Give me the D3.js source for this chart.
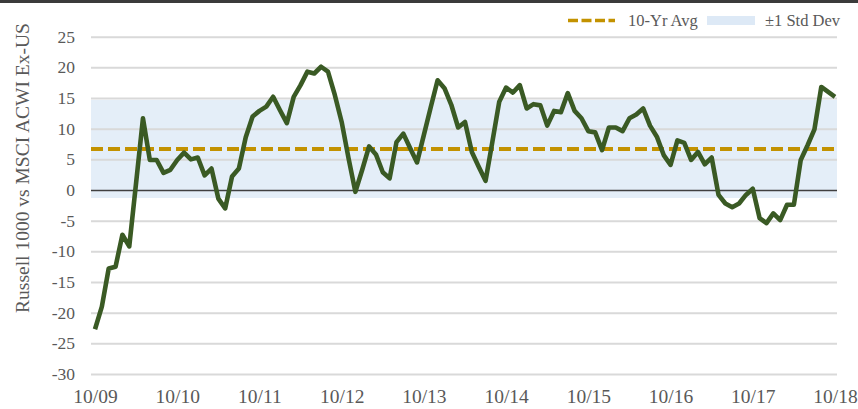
<!DOCTYPE html>
<html>
<head>
<meta charset="utf-8">
<script src="https://cdn.jsdelivr.net/npm/d3@7"></script>
<style>
	body { margin: 0; background: white; }
	svg text { font-family: "Liberation Serif", "Times New Roman", serif; fill: #595959; }
</style>
</head>
<body>
<svg id="chart" width="858" height="409"></svg>
<script>

var WIDTH = 858;
var HEIGHT = 409;
var X_LEFT = 95;
var X_RIGHT = 835;
var Y_TOP = 36.7;
var Y_BOTTOM = 374;

// monthly, 10/09 .. 10/18
var START_MONTH = new Date(2009, 9, 1);
var END_MONTH = new Date(2018, 9, 1);

var relPerf = [
	-22.7, -19.0, -12.8, -12.5, -7.3, -9.2, 1.2, 11.7, 4.9, 4.9, 2.8, 3.3,
	4.9, 6.1, 5.0, 5.3, 2.4, 3.5, -1.4, -3.0, 2.2, 3.5, 8.6, 12.0,
	12.9, 13.6, 15.2, 13.0, 10.9, 15.2, 17.1, 19.3, 19.0, 20.1, 19.3, 15.5,
	11.1, 5.2, -0.3, 3.3, 7.1, 5.8, 2.9, 1.9, 7.8, 9.2, 6.8, 4.5,
	9.0, 13.5, 17.9, 16.6, 13.9, 10.2, 11.1, 6.2, 3.8, 1.5, 7.9, 14.4,
	16.7, 15.9, 17.1, 13.3, 14.0, 13.8, 10.5, 12.9, 12.7, 15.8, 12.9, 11.7,
	9.6, 9.4, 6.5, 10.2, 10.2, 9.6, 11.7, 12.3, 13.3, 10.5, 8.7, 5.7,
	4.1, 8.1, 7.7, 4.9, 6.2, 4.2, 5.3, -0.8, -2.2, -2.8, -2.2, -0.8,
	0.2, -4.6, -5.4, -3.8, -4.9, -2.4, -2.4, 4.9, 7.3, 9.9, 16.8, 16.0,
	15.2
];

var avg10Yr = 6.7;
var stdDev = 8.0;

var yTicks = [25, 20, 15, 10, 5, 0, -5, -10, -15, -20, -25, -30];
var xTickLabels = ["10/09", "10/10", "10/11", "10/12", "10/13", "10/14", "10/15", "10/16", "10/17", "10/18"];

var fmtMonth = d3.timeFormat("%m/%y");
var months = d3.timeMonth.range(START_MONTH, d3.timeMonth.offset(END_MONTH, 1)).map(fmtMonth);

var svg = d3.select("#chart");

var x = d3.scalePoint()
	.domain(months)
	.range([X_LEFT, X_RIGHT]);

var y = d3.scaleLinear()
	.domain([-30, 25])
	.range([Y_BOTTOM, Y_TOP]);

// dark strip along the top
svg.append("rect")
	.attr("x", 0)
	.attr("y", 0)
	.attr("width", WIDTH)
	.attr("height", 3)
	.style("fill", "#3b3b3b");

// +/- 1 std dev band
svg.append("rect")
	.attr("x", X_LEFT - 4)
	.attr("y", y(avg10Yr + stdDev))
	.attr("width", X_RIGHT - X_LEFT + 6)
	.attr("height", y(avg10Yr - stdDev) - y(avg10Yr + stdDev))
	.style("fill", "#e4eef8");

// gridlines + y labels (plain hyphen for negatives, like the original)
var yAxis = d3.axisLeft(y)
	.tickValues(yTicks)
	.tickSize(-(X_RIGHT - X_LEFT + 6))
	.tickPadding(16)
	.tickFormat(function(d) { return String(d); });

var gy = svg.append("g")
	.attr("transform", "translate(" + (X_LEFT - 4) + ",0)")
	.call(yAxis);

gy.select(".domain").remove();
gy.selectAll(".tick line")
	.style("stroke", function(d) { return d == 0 ? "#404040" : "#d9d9d9"; })
	.style("stroke-width", function(d) { return d == 0 ? 1.5 : 2; });
gy.selectAll(".tick text")
	.style("font-size", "17.5px")
	.style("fill", "#595959");

// x labels, one a year
var xAxis = d3.axisBottom(x)
	.tickValues(xTickLabels)
	.tickSize(0)
	.tickPadding(15);

var gx = svg.append("g")
	.attr("transform", "translate(0," + Y_BOTTOM + ")")
	.call(xAxis);

gx.select(".domain").remove();
gx.selectAll(".tick text")
	.style("font-size", "19.5px")
	.style("fill", "#595959");

// 10-yr average
svg.append("line")
	.attr("x1", X_LEFT - 4)
	.attr("x2", X_RIGHT + 2)
	.attr("y1", y(avg10Yr))
	.attr("y2", y(avg10Yr))
	.style("stroke", "#c39200")
	.style("stroke-width", 4)
	.style("stroke-dasharray", "12,5");

// relative performance line
var line = d3.line()
	.x(function(d, i) { return x(months[i]); })
	.y(function(d) { return y(d); });

svg.append("path")
	.datum(relPerf)
	.attr("d", line)
	.style("fill", "none")
	.style("stroke", "#3a5a24")
	.style("stroke-width", 4.6)
	.style("stroke-linejoin", "round");

// y axis title
svg.append("text")
	.attr("transform", "translate(29,168) rotate(-90)")
	.attr("text-anchor", "middle")
	.style("font-size", "19.5px")
	.text("Russell 1000 vs MSCI ACWI Ex-US");

// legend
var legend = svg.append("g");

legend.append("line")
	.attr("x1", 568)
	.attr("x2", 615)
	.attr("y1", 20.5)
	.attr("y2", 20.5)
	.style("stroke", "#c39200")
	.style("stroke-width", 3.5)
	.style("stroke-dasharray", "10,3.5");

legend.append("text")
	.attr("x", 628)
	.attr("y", 26)
	.style("font-size", "16.5px")
	.text("10-Yr Avg");

legend.append("rect")
	.attr("x", 707)
	.attr("y", 16)
	.attr("width", 48)
	.attr("height", 9)
	.style("fill", "#dde9f6");

legend.append("text")
	.attr("x", 765)
	.attr("y", 26)
	.style("font-size", "16.5px")
	.text("\u00b11 Std Dev");

</script>
</body>
</html>
